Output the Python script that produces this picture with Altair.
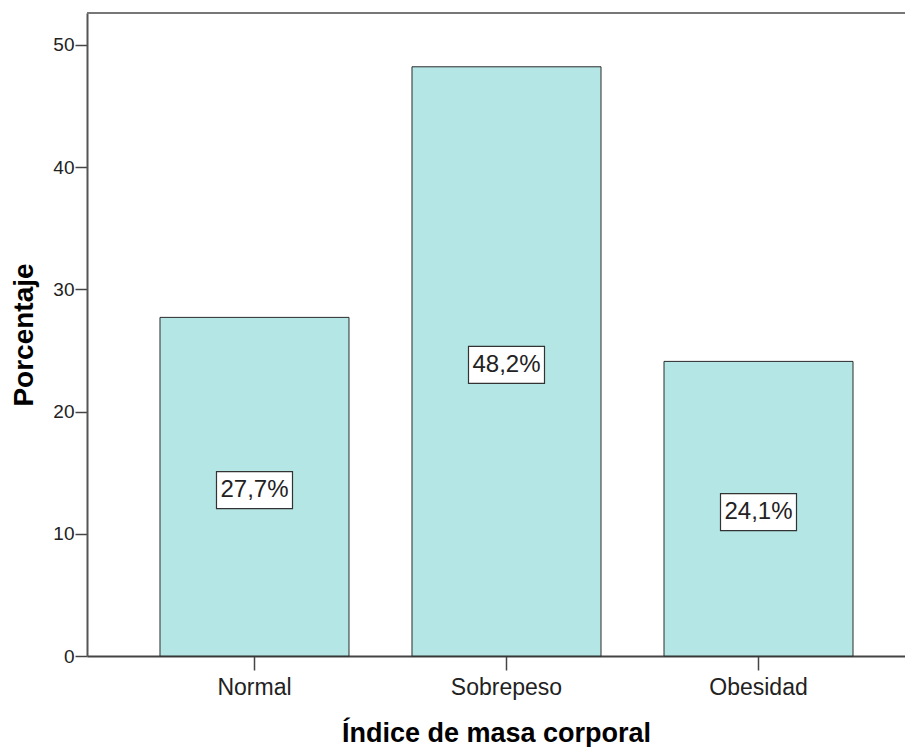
import altair as alt
import pandas as pd

categories = ["Normal", "Sobrepeso", "Obesidad"]
percent = [27.7, 48.2, 24.1]
labels = ["27,7%", "48,2%", "24,1%"]

df = pd.DataFrame({"cat": categories, "pct": percent, "label": labels})
df["half"] = df["pct"] / 2

W, H = 818, 643
FONT = "Liberation Sans"

xscale = alt.Scale(domain=categories, paddingInner=0.25, paddingOuter=0.248, align=0.584)
yscale = alt.Scale(domain=[0, 52.6], nice=False, zero=True)

bars = alt.Chart(df).mark_bar(color="#b4e6e6", stroke="#2a2a2a", strokeWidth=1).encode(
    x=alt.X("cat:N", scale=xscale, sort=categories,
            axis=alt.Axis(title="Índice de masa corporal", labelAngle=0, labelFontSize=23,
                          labelFont=FONT, labelColor="#222", labelPadding=6,
                          tickSize=14, tickColor="#444", tickWidth=1.5,
                          domainColor="#444", domainWidth=2,
                          titleFont=FONT, titleFontSize=27, titleFontWeight="bold",
                          titleColor="#000", titlePadding=21)),
    y=alt.Y("pct:Q", scale=yscale,
            axis=alt.Axis(title="Porcentaje", values=[0, 10, 20, 30, 40, 50], grid=False,
                          labelFontSize=19, labelFont=FONT, labelColor="#222", labelPadding=1,
                          tickSize=12, tickColor="#444", tickWidth=1.5,
                          domainColor="#555", domainWidth=2,
                          titleFont=FONT, titleFontSize=28, titleFontWeight="bold",
                          titleColor="#000", titlePadding=14)),
)

boxes = alt.Chart(df).mark_point(
    shape="M-1,-0.487L1,-0.487L1,0.487L-1,0.487Z", filled=True, fill="white",
    stroke="#333", strokeWidth=1.2, opacity=1, size=5776, yOffset=3.5,
).encode(
    x=alt.X("cat:N", scale=xscale, sort=categories),
    y=alt.Y("half:Q", scale=yscale),
)

texts = alt.Chart(df).mark_text(font=FONT, fontSize=24, color="#222", baseline="middle",
                                align="center", yOffset=3.5).encode(
    x=alt.X("cat:N", scale=xscale, sort=categories),
    y=alt.Y("half:Q", scale=yscale),
    text="label:N",
)

top = alt.Chart(df).mark_rule(color="#777", strokeWidth=2).encode(
    x=alt.value(0), x2=alt.value(W), y=alt.value(0)
)

chart = alt.layer(bars, boxes, texts, top).properties(
    width=W, height=H,
    autosize=alt.AutoSizeParams(type="none"),
    padding={"left": 79, "top": 5, "right": 0, "bottom": 92},
).configure_view(stroke=None).configure(background="white")

chart.save("out.html", embed_options={"renderer": "svg", "actions": False})
